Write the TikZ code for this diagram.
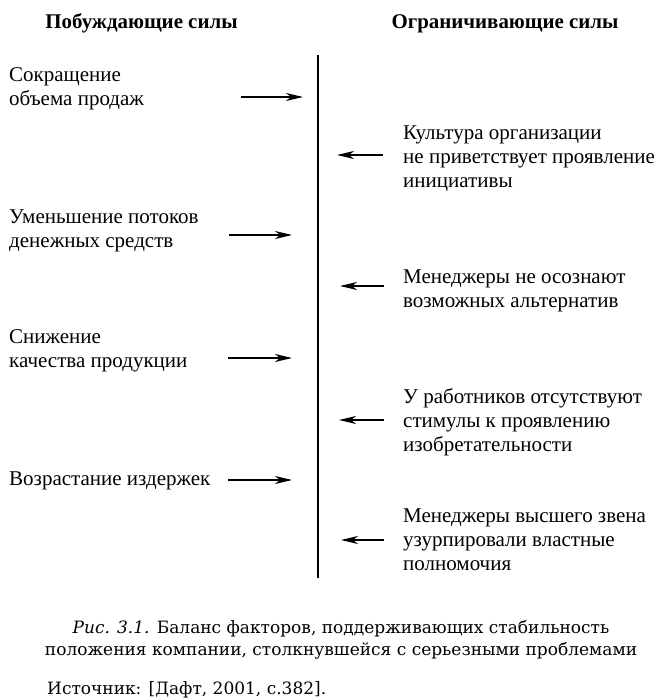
\documentclass[tikz,border=0pt]{standalone}
\usepackage{fontspec}
\setmainfont{Liberation Serif}
\newfontfamily\capfont{DejaVu Serif}
\usetikzlibrary{arrows.meta}
\tikzset{
  lbl/.style={anchor=north west,inner sep=0pt,align=left,font=\fontsize{21}{23.8}\selectfont},
  hdr/.style={anchor=base,inner sep=0pt,font=\fontsize{20.9}{24}\selectfont\bfseries},
  force/.style={line width=2pt,-{Stealth[length=17pt,width=8pt,inset=5pt]}},
  axis/.style={line width=2.4pt},
}
\begin{document}
\begin{tikzpicture}[x=1pt,y=-1pt]
\useasboundingbox (0,0) rectangle (659,700);
% headers
\node[hdr] (h1) at (141.5,29) {Побуждающие силы};
\node[hdr] (h2) at (505,29) {Ограничивающие силы};
% axis
\coordinate (top) at (318,55);
\coordinate (bot) at (318,578);
\draw[axis] (top) -- (bot);
% left texts
\node[lbl] (l1) at (9,67.5) {Сокращение\\объема продаж};
\node[lbl] (l2) at (9,209.5) {Уменьшение потоков\\денежных средств};
\node[lbl] (l3) at (9,329.5) {Снижение\\качества продукции};
\node[lbl] (l4) at (9,471.5) {Возрастание издержек};
% right texts
\node[lbl] (r1) at (403,125.5) {Культура организации\\не приветствует проявление\\инициативы};
\node[lbl] (r2) at (403,269.5) {Менеджеры не осознают\\возможных альтернатив};
\node[lbl] (r3) at (403,388.5) {У работников отсутствуют\\стимулы к проявлению\\изобретательности};
\node[lbl] (r4) at (403,508.5) {Менеджеры высшего звена\\узурпировали властные\\полномочия};
% arrow coordinates
\coordinate (a1s) at (241,97);  \coordinate (a1e) at (303,97);
\coordinate (a2s) at (229,235); \coordinate (a2e) at (292,235);
\coordinate (a3s) at (228,358); \coordinate (a3e) at (292,358);
\coordinate (a4s) at (228,480); \coordinate (a4e) at (292,480);
\coordinate (b1s) at (383,155); \coordinate (b1e) at (337,155);
\coordinate (b2s) at (384,286); \coordinate (b2e) at (340,286);
\coordinate (b3s) at (384,420); \coordinate (b3e) at (339,420);
\coordinate (b4s) at (384,540); \coordinate (b4e) at (341,540);
\draw[force] (a1s) -- (a1e);
\draw[force] (a2s) -- (a2e);
\draw[force] (a3s) -- (a3e);
\draw[force] (a4s) -- (a4e);
\draw[force] (b1s) -- (b1e);
\draw[force] (b2s) -- (b2e);
\draw[force] (b3s) -- (b3e);
\draw[force] (b4s) -- (b4e);
% caption
\node[anchor=base,inner sep=0pt,align=center,font=\capfont\fontsize{17}{22}\selectfont] (cap) at (341,655)
  {\textit{Рис. 3.1.} Баланс факторов, поддерживающих стабильность\\положения компании, столкнувшейся с серьезными проблемами};
\node[anchor=base west,inner sep=0pt,font=\capfont\fontsize{17}{22}\selectfont] (src) at (47,694)
  {Источник: [Дафт, 2001, с.382].};
\end{tikzpicture}
\end{document}
